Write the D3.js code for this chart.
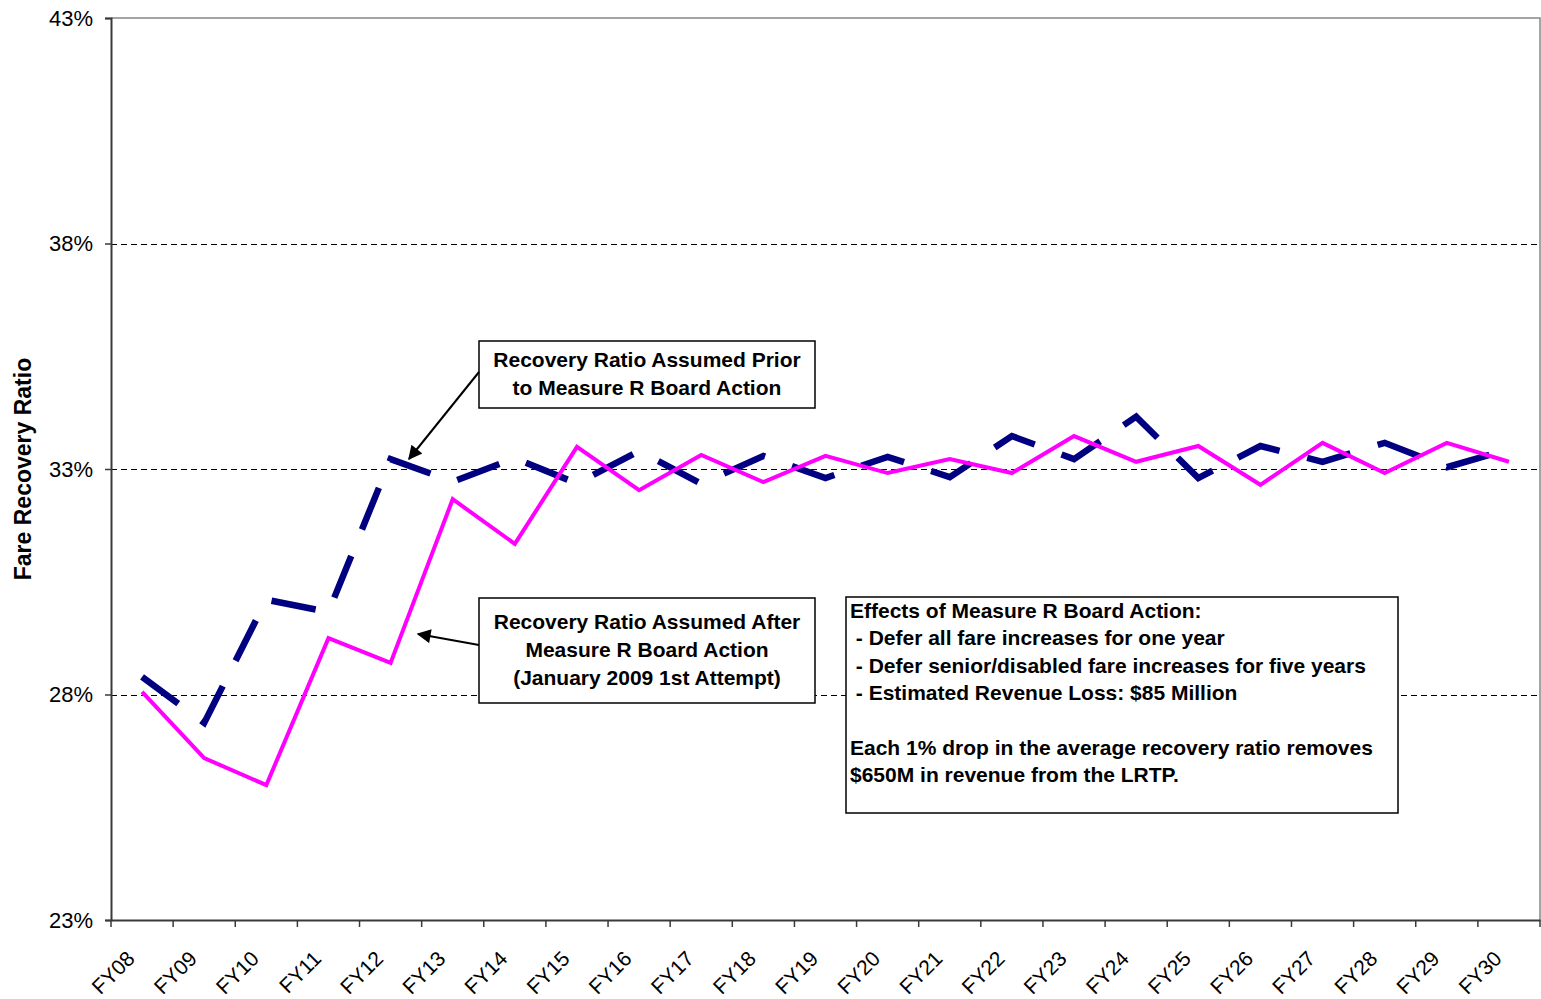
<!DOCTYPE html>
<html>
<head>
<meta charset="utf-8">
<script src="https://cdn.jsdelivr.net/npm/d3@7"></script>
<style>
  html, body { margin: 0; padding: 0; background: #fff; }
  svg { display: block; font-family: "Liberation Sans", Arial, sans-serif; }
</style>
</head>
<body>
<svg id="chart" width="1541" height="999"></svg>
<script>
// Fiscal years on the category axis
const years = ["FY08","FY09","FY10","FY11","FY12","FY13","FY14","FY15","FY16","FY17","FY18","FY19",
               "FY20","FY21","FY22","FY23","FY24","FY25","FY26","FY27","FY28","FY29","FY30"];

// Fare recovery ratio (%) assumed prior to Measure R Board action
const priorRatio = [28.39, 27.37, 30.10, 29.83, 33.22, 32.72, 33.24, 32.68, 33.40, 32.67, 33.29, 32.80,
                    33.27, 32.82, 33.73, 33.22, 34.16, 32.80, 33.51, 33.16, 33.58, 33.04, 33.44];

// Fare recovery ratio (%) assumed after Measure R Board action
const afterRatio = [28.06, 26.59, 25.99, 29.25, 28.70, 32.33, 31.34, 33.49, 32.53, 33.31, 32.71, 33.29,
                    32.91, 33.22, 32.91, 33.73, 33.16, 33.51, 32.65, 33.58, 32.91, 33.58, 33.16];

// Value axis ticks (%)
const yTicks = [23, 28, 33, 38, 43];
const gridTicks = [28, 33, 38];

const priorLabel = ["Recovery Ratio Assumed Prior", "to Measure R Board Action"];
const afterLabel = ["Recovery Ratio Assumed After", "Measure R Board Action", "(January 2009 1st Attempt)"];
const effectsLines = ["Effects of Measure R Board Action:",
                      " - Defer all fare increases for one year",
                      " - Defer senior/disabled fare increases for five years",
                      " - Estimated Revenue Loss: $85 Million",
                      "",
                      "Each 1% drop in the average recovery ratio removes",
                      "$650M in revenue from the LRTP."];

const svg = d3.select("#chart");
const plot = { left: 111, right: 1540, top: 18, bottom: 920 };

const x = d3.scaleBand().domain(years).range([plot.left, plot.right]).paddingInner(0).paddingOuter(0);
const y = d3.scaleLinear().domain([23, 43]).range([plot.bottom, plot.top]);
const cx = d => x(d) + x.bandwidth() / 2;

// arrow marker
svg.append("defs").append("marker")
  .attr("id", "arrow").attr("viewBox", "0 0 10 10")
  .attr("refX", 9).attr("refY", 5)
  .attr("markerWidth", 16).attr("markerHeight", 14)
  .attr("markerUnits", "userSpaceOnUse")
  .attr("orient", "auto")
  .append("path").attr("d", "M0,0 L10,5 L0,10 Z").attr("fill", "#000");

// plot frame (top and right)
svg.append("path")
  .attr("d", `M${plot.left},${plot.top}H${plot.right}V${plot.bottom}`)
  .attr("fill", "none").attr("stroke", "#868686").attr("stroke-width", 1.5);

// gridlines
svg.append("g").selectAll("line").data(gridTicks).join("line")
  .attr("x1", plot.left).attr("x2", plot.right)
  .attr("y1", d => Math.round(y(d)) + 0.5).attr("y2", d => Math.round(y(d)) + 0.5)
  .attr("stroke", "#000").attr("stroke-width", 1).attr("stroke-dasharray", "6,4");

// y axis
const yAxis = d3.axisLeft(y).tickValues(yTicks).tickFormat(d => d + "%").tickSize(6).tickPadding(12);
const gy = svg.append("g").attr("transform", `translate(${plot.left},0)`).call(yAxis);
gy.select(".domain").attr("stroke", "#3a3a3a").attr("stroke-width", 2);
gy.selectAll(".tick line").attr("stroke", "#3a3a3a").attr("stroke-width", 1.5);
gy.selectAll(".tick text").attr("font-size", 22).attr("fill", "#000")
  .attr("font-family", "Liberation Sans, Arial, sans-serif");

// x axis: ticks on category boundaries
const xAxis = d3.axisBottom(x).tickSize(0).tickFormat("");
const gx = svg.append("g").attr("transform", `translate(0,${plot.bottom})`).call(xAxis);
gx.select(".domain").attr("stroke", "#3a3a3a").attr("stroke-width", 2);
gx.selectAll(".tick").remove();
const bounds = years.map(d => x(d)).concat([plot.right]);
gx.selectAll("line.bt").data(bounds).join("line").attr("class", "bt")
  .attr("x1", d => d).attr("x2", d => d).attr("y1", 0).attr("y2", 7)
  .attr("stroke", "#3a3a3a").attr("stroke-width", 1.5);
gx.selectAll("text.xl").data(years).join("text").attr("class", "xl")
  .attr("transform", d => `translate(${cx(d) - 6},40) rotate(-45)`)
  .attr("text-anchor", "end")
  .attr("font-size", 21).attr("fill", "#000")
  .text(d => d);

// y axis title
svg.append("text")
  .attr("transform", `translate(31,${(plot.top + plot.bottom) / 2}) rotate(-90)`)
  .attr("text-anchor", "middle")
  .attr("font-size", 23).attr("font-weight", "bold")
  .text("Fare Recovery Ratio");

// series lines
const line = d3.line().x((d, i) => cx(years[i])).y(d => y(d));

svg.append("path").datum(priorRatio)
  .attr("d", line).attr("fill", "none")
  .attr("stroke", "#000080").attr("stroke-width", 6.5)
  .attr("stroke-dasharray", "45,28.5").attr("stroke-linejoin", "miter");

svg.append("path").datum(afterRatio)
  .attr("d", line).attr("fill", "none")
  .attr("stroke", "#FF00FF").attr("stroke-width", 4).attr("stroke-linejoin", "miter");

// callout boxes
function box(x0, y0, w, h) {
  svg.append("rect").attr("x", x0).attr("y", y0).attr("width", w).attr("height", h)
    .attr("fill", "#fff").attr("stroke", "#000").attr("stroke-width", 1.5);
}

box(479, 341, 336, 67);
svg.append("g").selectAll("text").data(priorLabel).join("text")
  .attr("x", 647).attr("y", (d, i) => 367 + i * 28)
  .attr("text-anchor", "middle").attr("font-size", 21).attr("font-weight", "bold")
  .text(d => d);

box(479, 598, 336, 105);
svg.append("g").selectAll("text").data(afterLabel).join("text")
  .attr("x", 647).attr("y", (d, i) => 629 + i * 28)
  .attr("text-anchor", "middle").attr("font-size", 21).attr("font-weight", "bold")
  .text(d => d);

box(846, 597, 552, 216);
svg.append("g").selectAll("text").data(effectsLines).join("text")
  .attr("x", 850).attr("y", (d, i) => 618 + i * 27.4)
  .attr("font-size", 21).attr("font-weight", "bold")
  .attr("xml:space", "preserve").style("white-space", "pre")
  .text(d => d);

// arrows from callouts to their series
svg.append("line").attr("x1", 479).attr("y1", 372).attr("x2", 409).attr("y2", 459)
  .attr("stroke", "#000").attr("stroke-width", 2).attr("marker-end", "url(#arrow)");
svg.append("line").attr("x1", 479).attr("y1", 645).attr("x2", 418).attr("y2", 634)
  .attr("stroke", "#000").attr("stroke-width", 2).attr("marker-end", "url(#arrow)");
</script>
</body>
</html>
